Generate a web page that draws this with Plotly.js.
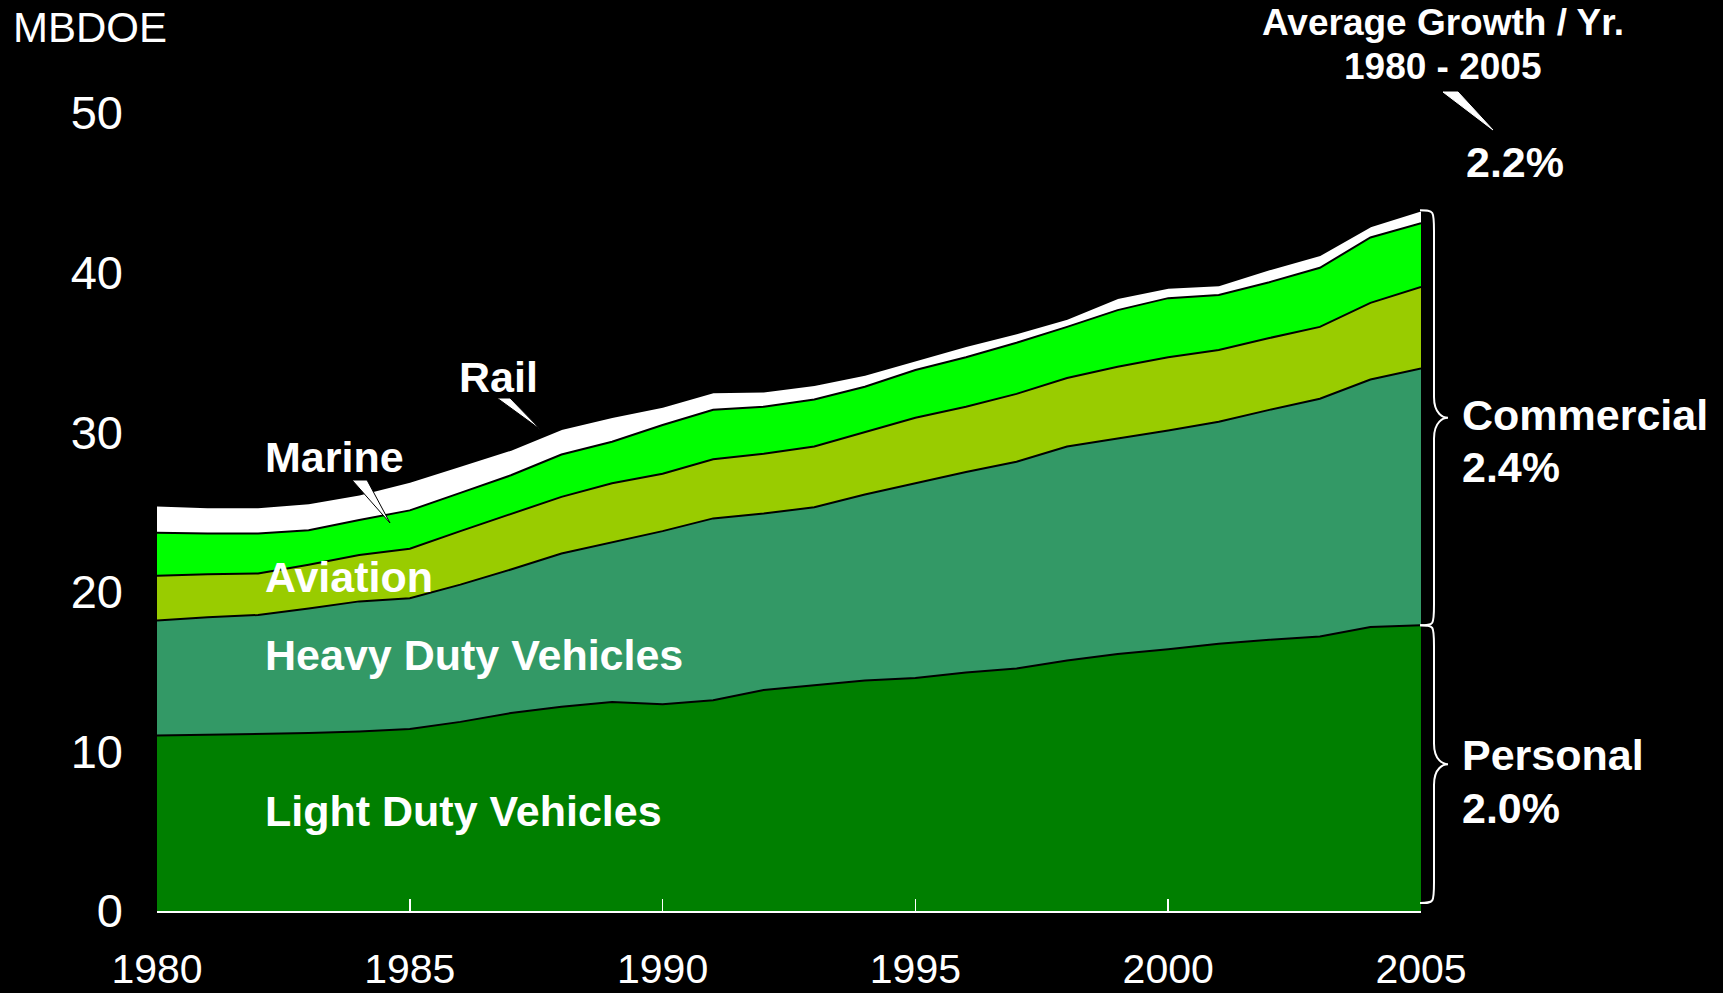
<!DOCTYPE html>
<html>
<head>
<meta charset="utf-8">
<script src="https://cdn.plot.ly/plotly-3.0.1.min.js"></script>
<style>html,body{margin:0;padding:0;background:#000;}#chart{width:1723px;height:993px;}</style>
</head>
<body>
<div id="chart"></div>
<script>
// ---- data (MBDOE) ----
const years = [1980,1981,1982,1983,1984,1985,1986,1987,1988,1989,1990,1991,1992,1993,1994,1995,1996,1997,1998,1999,2000,2001,2002,2003,2004,2005];
const lightDuty = [11.0,11.05,11.1,11.15,11.25,11.4,11.85,12.4,12.8,13.1,12.95,13.2,13.85,14.15,14.45,14.6,14.95,15.2,15.7,16.1,16.4,16.75,17.0,17.2,17.8,17.9];
const heavyDuty = [7.2,7.35,7.45,7.8,8.15,8.2,8.6,9.0,9.6,10.0,10.85,11.4,11.05,11.15,11.65,12.2,12.55,12.95,13.4,13.5,13.7,13.9,14.4,14.9,15.5,16.1];
const aviation = [2.8,2.7,2.6,2.75,2.9,3.1,3.35,3.5,3.55,3.7,3.6,3.7,3.75,3.8,3.9,4.1,4.1,4.25,4.3,4.5,4.6,4.5,4.5,4.5,4.8,5.1];
const marine = [2.7,2.55,2.5,2.15,2.2,2.4,2.4,2.4,2.65,2.6,3.05,3.1,2.95,2.95,2.85,3.0,3.1,3.2,3.2,3.55,3.7,3.45,3.5,3.7,4.1,4.0];
const rail = [1.7,1.65,1.65,1.7,1.6,1.8,1.7,1.6,1.6,1.55,1.15,1.1,0.95,0.9,0.75,0.6,0.7,0.6,0.5,0.75,0.65,0.6,0.8,0.8,0.7,0.8];
const seriesNames = ['Light Duty Vehicles','Heavy Duty Vehicles','Aviation','Marine','Rail'];
const seriesColors = ['#007F00','#339966','#99CC00','#00FF00','#FFFFFF'];
const xTicks = [1980,1985,1990,1995,2000,2005];
const yTicks = [0,10,20,30,40,50];
const growthLabels = {total:'2.2%', commercial:'2.4%', personal:'2.0%'};

const FONT = 'Arial, "Liberation Sans", sans-serif';
const L = 157, R = 1421, T = 113, B = 911;
const W = R - L, H = B - T;
const px = v => (v - L) / W;
const py = v => (B - v) / H;

const seriesData = [lightDuty, heavyDuty, aviation, marine, rail];
const traces = seriesData.map((vals, i) => ({
  x: years, y: vals, name: seriesNames[i], type: 'scatter', mode: 'lines',
  stackgroup: 'one', fillcolor: seriesColors[i],
  line: {color: '#000000', width: 2, shape: 'linear'},
  hoverinfo: 'skip'
}));

const last = years.length - 1;
const total2005 = seriesData.reduce((s, a) => s + a[last], 0);
const ldv2005 = lightDuty[last];

function ann(text, x, y, size, bold, xanchor) {
  return {text: bold ? '<b>' + text + '</b>' : text, xref: 'paper', yref: 'paper',
    x: px(x), y: py(y), xanchor: xanchor || 'left', yanchor: 'middle', showarrow: false,
    font: {family: FONT, size: size, color: '#FFFFFF'}};
}

function brace(yTop, yBot) {
  const x0 = px(1420), xm = px(1434), xt = px(1448);
  const ymid = (yTop + yBot) / 2;
  const d = 1.3;
  return {type: 'path', xref: 'paper', yref: 'y', layer: 'above',
    line: {color: '#FFFFFF', width: 2},
    path: `M ${x0},${yTop} C ${xm},${yTop} ${xm},${yTop} ${xm},${yTop - d} ` +
          `L ${xm},${ymid + d} C ${xm},${ymid + 0.2} ${xt - (xt - xm) * 0.3},${ymid} ${xt},${ymid} ` +
          `C ${xt - (xt - xm) * 0.3},${ymid} ${xm},${ymid - 0.2} ${xm},${ymid - d} ` +
          `L ${xm},${yBot + d} C ${xm},${yBot} ${xm},${yBot} ${x0},${yBot}`};
}

function wedge(pts, outline) {
  let p = 'M ' + pts.map(q => px(q[0]) + ',' + py(q[1])).join(' L ') + ' Z';
  return {type: 'path', xref: 'paper', yref: 'paper', layer: 'above', path: p,
    fillcolor: '#FFFFFF', line: {color: outline || '#FFFFFF', width: 1}};
}

const layout = {
  width: 1723, height: 993,
  paper_bgcolor: '#000000', plot_bgcolor: '#000000',
  margin: {l: L, r: 1723 - R, t: T, b: 993 - B, pad: 0},
  showlegend: false,
  xaxis: {range: [1980, 2005], tickvals: xTicks, ticktext: xTicks.map(String),
    ticks: 'inside', ticklen: 12, tickwidth: 1.5, tickcolor: '#FFFFFF',
    showline: true, linecolor: '#FFFFFF', linewidth: 2, mirror: false,
    showgrid: false, zeroline: false, ticklabelstandoff: 21,
    tickfont: {family: FONT, size: 41, color: '#FFFFFF'}, fixedrange: true},
  yaxis: {range: [0, 50], tickvals: yTicks, ticktext: yTicks.map(String),
    ticks: '', showline: false, showgrid: false, zeroline: false,
    ticklabelstandoff: 33,
    tickfont: {family: FONT, size: 47, color: '#FFFFFF'}, fixedrange: true},
  annotations: [
    ann('MBDOE', 11, 28, 42, false),
    ann('Light Duty Vehicles', 263, 811, 43, true),
    ann('Heavy Duty Vehicles', 263, 655, 43, true),
    ann('Aviation', 263, 577, 43, true),
    ann('Marine', 263, 457, 43, true),
    ann('Rail', 457, 377, 43, true),
    ann('Average Growth / Yr.', 1443, 22, 37, true, 'center'),
    ann('1980 - 2005', 1443, 67, 37, true, 'center'),
    ann(growthLabels.total, 1464, 162, 43, true),
    ann('Commercial', 1460, 415, 43, true),
    ann(growthLabels.commercial, 1460, 467, 43, true),
    ann('Personal', 1460, 755, 43, true),
    ann(growthLabels.personal, 1460, 808, 43, true)
  ],
  shapes: [
    brace(total2005, ldv2005),
    brace(ldv2005, 0.5),
    wedge([[352, 480], [367, 480], [390, 523]], '#000000'),
    wedge([[497, 398], [510, 398], [541, 430]], '#000000'),
    wedge([[1443, 92], [1458, 92], [1493, 130]])
  ]
};

Plotly.newPlot('chart', traces, layout, {displayModeBar: false, staticPlot: true});
</script>
</body>
</html>
